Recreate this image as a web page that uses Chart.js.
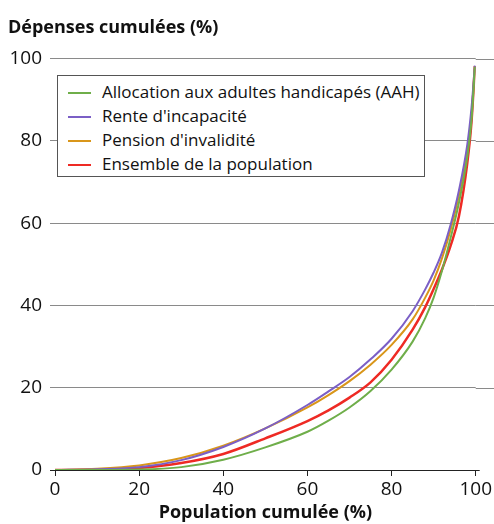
<!DOCTYPE html>
<html>
<head>
<meta charset="utf-8">
<script src="https://cdn.jsdelivr.net/npm/chart.js@4"></script>
<style>
  body { margin: 0; background: #fff; }
  #wrap { position: relative; width: 494px; height: 524px; }
  #legend {
    position: absolute; left: 57px; top: 75px; width: 368px; height: 102px;
    border: 1px solid #555; background: #fff;
    font-family: "Open Sans", sans-serif; font-size: 17px; color: #111;
    padding-top: 4px; box-sizing: border-box;
  }
  .row { height: 24px; line-height: 24px; white-space: nowrap; }
  .row span { display: inline-block; width: 23px; height: 2px; vertical-align: middle; margin: 0 11px 0 10px; }
</style>
</head>
<body>
<div id="wrap">
  <canvas id="myChart" width="494" height="524"></canvas>
  <div id="legend"></div>
</div>
<script>
// population cumulee (%) et depenses cumulees (%) pour chaque courbe
let popPoints = [0, 10, 20, 30, 40, 50, 60, 65, 70, 75, 80, 85, 88, 90, 92, 94, 96, 98, 99, 99.8];

let aah      = [0, 0, 0.1, 0.7, 2.5, 5.5, 9.3, 12.0, 15.2, 19.2, 24.4, 31.2, 36.9, 41.9, 48.5, 56.3, 64.9, 76.1, 85.1, 98];
let rente    = [0, 0.2, 0.7, 2.4, 5.6, 10.1, 15.8, 19.1, 22.6, 26.9, 31.9, 38.6, 43.9, 48, 52.9, 59.5, 67.9, 79.1, 88, 98.3];
let pension  = [0, 0.3, 1.1, 2.9, 5.9, 10.1, 15.2, 18.2, 21.6, 25.6, 30.4, 36.6, 41.9, 46.1, 51.5, 58.3, 66.7, 77.7, 86.2, 98.2];
let ensemble = [0, 0.1, 0.5, 1.7, 3.9, 7.7, 11.9, 14.5, 17.6, 21.3, 26.8, 34.1, 39.6, 44, 48.8, 54.4, 61.6, 74.6, 84.6, 98.2];

let seriesNames  = ["Allocation aux adultes handicapés (AAH)", "Rente d'incapacité", "Pension d'invalidité", "Ensemble de la population"];
let seriesColors = ["#6fae4a", "#7b5fc6", "#d9961a", "#ee2a24"];
let seriesWidth  = [2, 2, 2, 2.5];
let seriesValues = [aah, rente, pension, ensemble];

let xTicks = [0, 20, 40, 60, 80, 100];
let yTicks = [0, 20, 40, 60, 80, 100];

function toPoints(values) {
    return values.map((v, i) => ({x: popPoints[i], y: v}));
}

let datasets = [];
for (let i = 0; i < seriesNames.length; i++) {
    datasets.push({
        label: seriesNames[i],
        data: toPoints(seriesValues[i]),
        borderColor: seriesColors[i],
        backgroundColor: seriesColors[i],
        borderWidth: seriesWidth[i],
        pointRadius: 0,
        showLine: true,
        cubicInterpolationMode: 'monotone'
    });
}

// legend as real text
let legendHtml = "";
for (let i = 0; i < seriesNames.length; i++) {
    legendHtml += '<div class="row"><span style="background:' + seriesColors[i] + '"></span>' + seriesNames[i] + '</div>';
}
document.getElementById("legend").innerHTML = legendHtml;

// extend the horizontal grid lines to the right edge, like the original
const gridExtend = {
    id: 'gridExtend',
    beforeDatasetsDraw(chart) {
        let ctx = chart.ctx;
        let y = chart.scales.y;
        let area = chart.chartArea;
        ctx.save();
        ctx.lineWidth = 1;
        yTicks.forEach(t => {
            let py = Math.round(y.getPixelForValue(t)) + 0.5;
            ctx.strokeStyle = t === 0 ? '#222' : '#8a8a8a';
            ctx.beginPath();
            ctx.moveTo(area.right, py);
            ctx.lineTo(t === 0 ? area.right + 4 : chart.width, py);
            ctx.stroke();
        });
        ctx.restore();
    }
};

let config = {
    type: 'scatter',
    data: {datasets: datasets},
    options: {
        responsive: false,
        animation: false,
        layout: {padding: {left: 8, right: 16, top: 0, bottom: 0}},
        plugins: {
            legend: {display: false},
            tooltip: {enabled: false},
            title: {
                display: true,
                text: 'Dépenses cumulées (%)',
                align: 'start',
                color: '#111',
                font: {family: 'Open Sans', size: 18, weight: 'bold'},
                padding: {top: 17, bottom: 20}
            }
        },
        scales: {
            x: {
                type: 'linear',
                min: 0,
                max: 100,
                afterBuildTicks: s => { s.ticks = xTicks.map(v => ({value: v})); },
                afterFit: s => { s.height = 54; },
                grid: {drawOnChartArea: false, drawTicks: true, tickLength: 6, color: '#222'},
                border: {color: '#222'},
                ticks: {color: '#111', padding: 2, font: {family: 'Open Sans', size: 19}},
                title: {
                    display: true,
                    text: 'Population cumulée (%)',
                    color: '#111',
                    font: {family: 'Open Sans', size: 18, weight: 'bold'},
                    padding: {top: 0, bottom: 0}
                }
            },
            y: {
                type: 'linear',
                min: 0,
                max: 100,
                afterBuildTicks: s => { s.ticks = yTicks.map(v => ({value: v})); },
                afterFit: s => { s.width = 47; },
                grid: {
                    color: ctx => ctx.tick && ctx.tick.value === 0 ? '#222' : '#8a8a8a',
                    tickLength: 5
                },
                border: {display: false},
                ticks: {color: '#111', padding: 8, font: {family: 'Open Sans', size: 19}}
            }
        }
    },
    plugins: [gridExtend]
};

myChart = new Chart(document.getElementById('myChart'), config);
</script>
</body>
</html>
